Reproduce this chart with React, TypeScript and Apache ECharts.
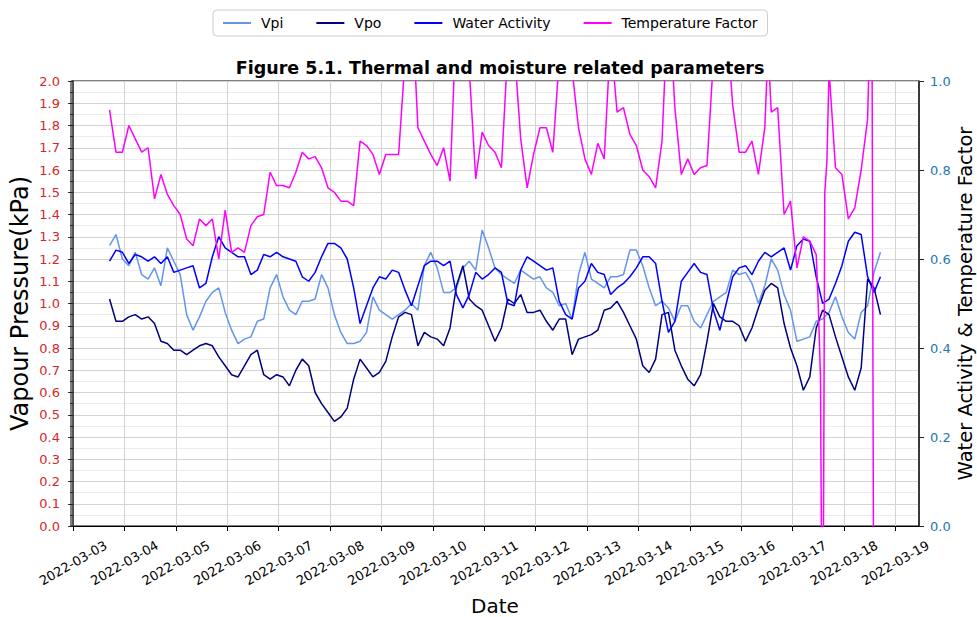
import React, { useEffect, useRef } from 'react';
import * as echarts from 'echarts';

// Tick labels of the date axis (one per day, 00:00)
const dateLabels = [
  '2022-03-03', '2022-03-04', '2022-03-05', '2022-03-06', '2022-03-07', '2022-03-08',
  '2022-03-09', '2022-03-10', '2022-03-11', '2022-03-12', '2022-03-13', '2022-03-14',
  '2022-03-15', '2022-03-16', '2022-03-17', '2022-03-18', '2022-03-19',
];

// Samples start 2022-03-03 17:00, one every 3 hours
const START_HOUR = 17;
const STEP_HOURS = 3;

// Vapour pressure inside (kPa)
const vpi = [
  1.26, 1.31, 1.20, 1.17, 1.23, 1.13, 1.11, 1.16, 1.08, 1.25,
  1.19, 1.13, 0.95, 0.88, 0.94, 1.01, 1.05, 1.07, 0.96, 0.88,
  0.82, 0.84, 0.85, 0.92, 0.93, 1.07, 1.13, 1.03, 0.97, 0.95,
  1.01, 1.01, 1.02, 1.13, 1.07, 0.95, 0.87, 0.82, 0.82, 0.83,
  0.87, 1.03, 0.97, 0.95, 0.93, 0.95, 0.97, 1.00, 0.97, 1.17,
  1.23, 1.16, 1.05, 1.05, 1.07, 1.16, 1.19, 1.15, 1.33, 1.25,
  1.16, 1.13, 1.11, 1.09, 1.15, 1.13, 1.11, 1.12, 1.07, 1.05,
  0.99, 1.00, 0.93, 1.13, 1.23, 1.11, 1.09, 1.07, 1.12, 1.12,
  1.13, 1.24, 1.24, 1.17, 1.07, 0.99, 1.01, 0.98, 0.92, 0.99,
  0.99, 0.92, 0.89, 0.95, 1.01, 1.03, 1.05, 1.15, 1.13, 1.14,
  1.09, 1.00, 1.08, 1.20, 1.15, 1.04, 0.97, 0.83, 0.84, 0.85,
  0.92, 0.93, 0.96, 1.03, 0.94, 0.87, 0.84, 0.96, 0.99, 1.14, 1.23,
];

// Vapour pressure outside (kPa)
const vpo = [
  1.02, 0.92, 0.92, 0.94, 0.95, 0.93, 0.94, 0.91, 0.83, 0.82,
  0.79, 0.79, 0.77, 0.79, 0.81, 0.82, 0.81, 0.76, 0.72, 0.68,
  0.67, 0.72, 0.77, 0.79, 0.68, 0.66, 0.68, 0.67, 0.63, 0.70,
  0.75, 0.72, 0.60, 0.55, 0.51, 0.47, 0.49, 0.53, 0.66, 0.75,
  0.71, 0.67, 0.69, 0.74, 0.85, 0.94, 0.96, 0.95, 0.81, 0.87,
  0.85, 0.84, 0.81, 0.89, 1.08, 1.17, 1.02, 0.99, 0.97, 0.90,
  0.83, 0.89, 1.02, 1.00, 1.04, 0.96, 0.96, 0.97, 0.92, 0.88,
  0.93, 0.93, 0.77, 0.84, 0.85, 0.86, 0.88, 0.97, 0.98, 1.01,
  0.96, 0.90, 0.84, 0.72, 0.69, 0.75, 0.95, 0.96, 0.79, 0.72,
  0.66, 0.63, 0.68, 0.83, 1.00, 0.94, 0.92, 0.92, 0.90, 0.83,
  0.89, 0.98, 1.06, 1.09, 1.07, 0.91, 0.80, 0.72, 0.61, 0.67,
  0.89, 0.97, 0.95, 0.85, 0.76, 0.67, 0.61, 0.71, 1.11, 1.07, 0.95,
];

// Water activity (right axis)
const waterActivity = [
  0.595, 0.62, 0.615, 0.59, 0.61, 0.605, 0.595, 0.605, 0.59, 0.605,
  0.57, 0.575, 0.58, 0.585, 0.535, 0.545, 0.605, 0.65, 0.625, 0.615,
  0.605, 0.605, 0.565, 0.575, 0.61, 0.605, 0.615, 0.605, 0.60, 0.595,
  0.56, 0.55, 0.57, 0.605, 0.635, 0.635, 0.625, 0.60, 0.535, 0.455,
  0.495, 0.535, 0.56, 0.555, 0.575, 0.57, 0.53, 0.495, 0.54, 0.585,
  0.595, 0.595, 0.585, 0.595, 0.52, 0.49, 0.52, 0.57, 0.555, 0.565,
  0.58, 0.57, 0.50, 0.495, 0.575, 0.605, 0.595, 0.585, 0.575, 0.58,
  0.505, 0.475, 0.465, 0.535, 0.55, 0.59, 0.57, 0.565, 0.52, 0.535,
  0.545, 0.56, 0.58, 0.605, 0.605, 0.59, 0.505, 0.435, 0.46, 0.55,
  0.57, 0.59, 0.57, 0.565, 0.485, 0.44, 0.50, 0.56, 0.58, 0.585,
  0.565, 0.595, 0.615, 0.605, 0.615, 0.625, 0.575, 0.63, 0.645, 0.64,
  0.56, 0.50, 0.51, 0.545, 0.585, 0.64, 0.66, 0.655, 0.56, 0.525, 0.56,
];

// Temperature factor (right axis): [hours after start, value]
const temperatureFactor: [number, number][] = [
  [0, 0.935], [3, 0.84], [6, 0.84], [9, 0.90], [12, 0.87], [15, 0.84], [18, 0.85], [21, 0.735], [24, 0.79], [27, 0.745],
  [30, 0.72], [33, 0.70], [36, 0.645], [39, 0.63], [42, 0.69], [45, 0.675], [48, 0.69], [51, 0.60], [54, 0.71], [57, 0.615],
  [60, 0.625], [63, 0.615], [66, 0.675], [69, 0.695], [72, 0.70], [75, 0.795], [78, 0.765], [81, 0.765], [84, 0.76], [87, 0.795],
  [90, 0.84], [93, 0.825], [96, 0.83], [99, 0.805], [102, 0.76], [105, 0.75], [108, 0.73], [111, 0.73], [114, 0.72], [117, 0.865],
  [120, 0.855], [123, 0.835], [126, 0.79], [129, 0.835], [132, 0.835], [135, 0.835], [138, 1.05], [141, 1.20], [144, 0.895], [147, 0.865],
  [150, 0.835], [153, 0.81], [156, 0.85], [159, 0.775], [162, 1.15], [165, 1.25], [168, 1.025], [171, 0.78], [174, 0.885], [177, 0.855],
  [180, 0.84], [183, 0.805], [186, 1.075], [189, 1.075], [192, 0.87], [195, 0.76], [198, 0.835], [201, 0.895], [204, 0.895], [207, 0.84],
  [210, 1.05], [213, 1.25], [216, 1.025], [219, 0.895], [222, 0.825], [225, 0.79], [228, 0.86], [231, 0.825], [234, 1.10], [237, 0.93],
  [240, 0.94], [243, 0.88], [246, 0.855], [249, 0.80], [252, 0.785], [255, 0.76], [258, 0.865], [261, 1.20], [264, 0.94], [267, 0.79],
  [270, 0.825], [273, 0.79], [276, 0.805], [279, 0.81], [282, 1.05], [285, 1.30], [288, 1.15], [291, 0.945], [294, 0.84], [297, 0.84],
  [300, 0.865], [303, 0.79], [306, 0.895], [307.5, 1.075], [309, 0.93], [312, 0.94], [315, 0.70], [318, 0.73], [321, 0.58], [324, 0.65],
  [327, 0.64], [330, 0.61], [331, 0.49], [332, 0.335], [333, -0.5], [334, 0.75], [335, 0.82], [336, 1.025], [339, 0.805], [342, 0.79],
  [345, 0.69], [348, 0.715], [351, 0.80], [354, 0.915], [355, 1.10], [356, 1.20], [357, -0.5],
];

const FONT = 'DejaVu Sans';

function toDay(hoursAfterStart: number): number {
  return (START_HOUR + hoursAfterStart) / 24;
}

export default function App() {
  const ref = useRef<HTMLDivElement>(null);

  useEffect(() => {
    document.body.style.margin = '0';
    if (!ref.current) return;
    const chart = echarts.init(ref.current, null, { renderer: 'svg' });
    const dayTicks = dateLabels.map((_, i) => i);
    const regular = (arr: number[]) => arr.map((v, i) => [toDay(STEP_HOURS * i), v]);

    const option: any = {
      animation: false,
      backgroundColor: '#ffffff',
      textStyle: { fontFamily: FONT },
      title: {
        text: 'Figure 5.1. Thermal and moisture related parameters',
        left: 495,
        top: 54,
        textAlign: 'center',
        textStyle: { fontSize: 17.5, fontWeight: 'bold', color: '#000', fontFamily: FONT },
      },
      legend: {
        left: 213,
        top: 10,
        padding: [6, 10],
        icon: 'rect',
        itemWidth: 28,
        itemHeight: 2,
        itemGap: 33,
        borderColor: '#cccccc',
        borderWidth: 1,
        borderRadius: 4,
        textStyle: { fontSize: 14, color: '#000', fontFamily: FONT, padding: [0, 0, 0, 5] },
        data: ['Vpi', 'Vpo', 'Water Activity', 'Temperature Factor'],
      },
      grid: {
        left: 71, right: 58, top: 81, bottom: 91,
        show: true, borderColor: '#000', borderWidth: 1,
        containLabel: false, outerBoundsMode: 'none',
      },
      xAxis: {
        type: 'value',
        min: -0.0417,
        max: 16.4583,
        name: 'Date',
        nameLocation: 'middle',
        nameGap: 70,
        nameMoveOverlap: false,
        nameTextStyle: { fontSize: 20, color: '#000', fontFamily: FONT },
        axisLine: { show: true, onZero: false, lineStyle: { color: '#000', width: 1 } },
        axisTick: { show: true, length: 5, customValues: dayTicks, lineStyle: { color: '#000' } },
        axisLabel: {
          customValues: dayTicks,
          formatter: (v: number) => dateLabels[Math.round(v)] ?? '',
          rotate: 30,
          align: 'center',
          verticalAlign: 'middle',
          margin: 37,
          fontSize: 13,
          color: '#000',
          fontFamily: FONT,
        },
        splitLine: { show: true, lineStyle: { color: '#d3d3d3', width: 1 } },
      },
      yAxis: [
        {
          type: 'value',
          position: 'left',
          min: 0, max: 2, interval: 0.1,
          name: 'Vapour Pressure(kPa)',
          nameLocation: 'middle',
          nameGap: 39,
          nameRotate: 90,
          nameMoveOverlap: false,
          nameTextStyle: { fontSize: 24, color: '#000', fontFamily: FONT },
          axisLine: { show: true, lineStyle: { color: '#222', width: 1.5 } },
          axisTick: { show: true, length: 5, lineStyle: { color: '#222' } },
          minorTick: { show: true, splitNumber: 2, length: 3, lineStyle: { color: '#222' } },
          axisLabel: {
            color: '#d62728', fontSize: 13, margin: 11, fontFamily: FONT,
            formatter: (v: number) => v.toFixed(1),
          },
          splitLine: { show: true, lineStyle: { color: '#d3d3d3', width: 1 } },
          minorSplitLine: { show: true, lineStyle: { color: '#ededed', width: 1 } },
        },
        {
          type: 'value',
          position: 'right',
          min: 0, max: 1, interval: 0.2,
          name: 'Water Activity & Temperature Factor',
          nameLocation: 'middle',
          nameGap: 36,
          nameRotate: 90,
          nameMoveOverlap: false,
          nameTextStyle: { fontSize: 19.5, color: '#000', fontFamily: FONT },
          axisLine: { show: true, lineStyle: { color: '#222', width: 1.5 } },
          axisTick: { show: true, length: 5, lineStyle: { color: '#222' } },
          axisLabel: {
            color: '#1f77b4', fontSize: 13, margin: 11, fontFamily: FONT,
            formatter: (v: number) => v.toFixed(1),
          },
          splitLine: { show: false },
        },
      ],
      series: [
        {
          name: 'Vpi', type: 'line', yAxisIndex: 0, data: regular(vpi),
          symbol: 'none', showSymbol: false, clip: true,
          lineStyle: { color: '#6495ED', width: 1.5 }, itemStyle: { color: '#6495ED' },
        },
        {
          name: 'Vpo', type: 'line', yAxisIndex: 0, data: regular(vpo),
          symbol: 'none', showSymbol: false, clip: true,
          lineStyle: { color: '#000080', width: 1.5 }, itemStyle: { color: '#000080' },
        },
        {
          name: 'Water Activity', type: 'line', yAxisIndex: 1, data: regular(waterActivity),
          symbol: 'none', showSymbol: false, clip: true,
          lineStyle: { color: '#0000FF', width: 1.5 }, itemStyle: { color: '#0000FF' },
        },
        {
          name: 'Temperature Factor', type: 'line', yAxisIndex: 1,
          data: temperatureFactor.map(([h, v]) => [toDay(h), v]),
          symbol: 'none', showSymbol: false, clip: true,
          lineStyle: { color: '#FF00FF', width: 1.5 }, itemStyle: { color: '#FF00FF' },
        },
      ],
    };

    chart.setOption(option);
    return () => chart.dispose();
  }, []);

  return <div ref={ref} style={{ width: 977, height: 617 }} />;
}
